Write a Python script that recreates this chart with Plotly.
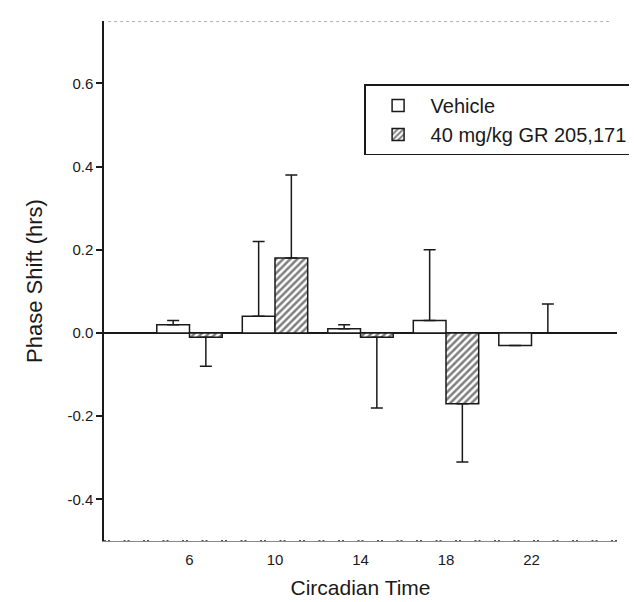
import plotly.graph_objects as go

# Circadian time groups
ct = [6, 10, 14, 18, 22]

# Vehicle phase shifts (hrs) and SEM
vehicle = [0.02, 0.04, 0.01, 0.03, -0.03]
vehicle_err_up = [0.01, 0.18, 0.01, 0.17, 0.0]
vehicle_err_down = [0.0, 0.0, 0.0, 0.0, 0.0]

# 40 mg/kg GR 205,171 phase shifts (hrs) and SEM
drug = [-0.01, 0.18, -0.01, -0.17, 0.0]
drug_err_up = [0.0, 0.20, 0.0, 0.0, 0.07]
drug_err_down = [0.07, 0.0, 0.17, 0.14, 0.0]

y_ticks = [-0.4, -0.2, 0.0, 0.2, 0.4, 0.6]

INK = '#1a1a1a'
FONT = 'Liberation Sans, Arial, sans-serif'

fig = go.Figure()

fig.add_trace(go.Bar(
    x=ct, y=vehicle, name='Vehicle',
    marker=dict(color='white', line=dict(color=INK, width=1.5)),
    error_y=dict(type='data', symmetric=False,
                 array=vehicle_err_up, arrayminus=vehicle_err_down,
                 color=INK, thickness=1.5, width=6),
))

fig.add_trace(go.Bar(
    x=ct, y=drug, name='40 mg/kg GR 205,171',
    marker=dict(color='white', line=dict(color=INK, width=1.5),
                pattern=dict(shape='/', fgcolor='#000', bgcolor='white',
                             size=5, solidity=0.5)),
    error_y=dict(type='data', symmetric=False,
                 array=drug_err_up, arrayminus=drug_err_down,
                 color=INK, thickness=1.5, width=6),
))

# dotted frame line on top, dashed baseline at the bottom
fig.add_shape(type='line', xref='paper', yref='y', x0=0.008, x1=0.99, y0=0.75, y1=0.75,
              line=dict(color='#666', width=1, dash='dot'))
fig.add_shape(type='line', xref='paper', yref='y', x0=0, x1=1, y0=-0.5, y1=-0.5,
              line=dict(color=INK, width=1.5, dash='2px,2px,2px,13.5px'))

fig.update_layout(
    width=637, height=602,
    margin=dict(l=96, r=22, t=13, b=69),
    paper_bgcolor='white', plot_bgcolor='white',
    font=dict(family=FONT, color=INK),
    barmode='group', bargap=0.235, bargroupgap=0,
    showlegend=True,
    legend=dict(x=0.507, xanchor='left', y=0.878, yanchor='top',
                bgcolor='white', bordercolor=INK, borderwidth=1.5,
                font=dict(size=20, family=FONT, color=INK),
                itemwidth=55, tracegroupgap=0),
)

fig.update_xaxes(
    range=[2, 26], tickvals=ct, ticktext=[str(c) for c in ct],
    showline=True, linecolor='#888', linewidth=1,
    ticks='', showgrid=False, zeroline=False, automargin=False,
    ticklabelstandoff=5,
    tickfont=dict(size=15),
    title=dict(text='Circadian Time', font=dict(size=21), standoff=13),
)

fig.update_yaxes(
    range=[-0.5, 0.75], tickvals=y_ticks,
    ticktext=[f'{v:.1f}' for v in y_ticks],
    showline=True, linecolor=INK, linewidth=1.5,
    ticks='outside', ticklen=6, tickcolor=INK, tickwidth=1.5,
    showgrid=False, zeroline=True, zerolinecolor=INK, zerolinewidth=1.5,
    automargin=False,
    tickfont=dict(size=15),
    title=dict(text='Phase Shift (hrs)', font=dict(size=22), standoff=19),
)

fig.write_html('out.html')
